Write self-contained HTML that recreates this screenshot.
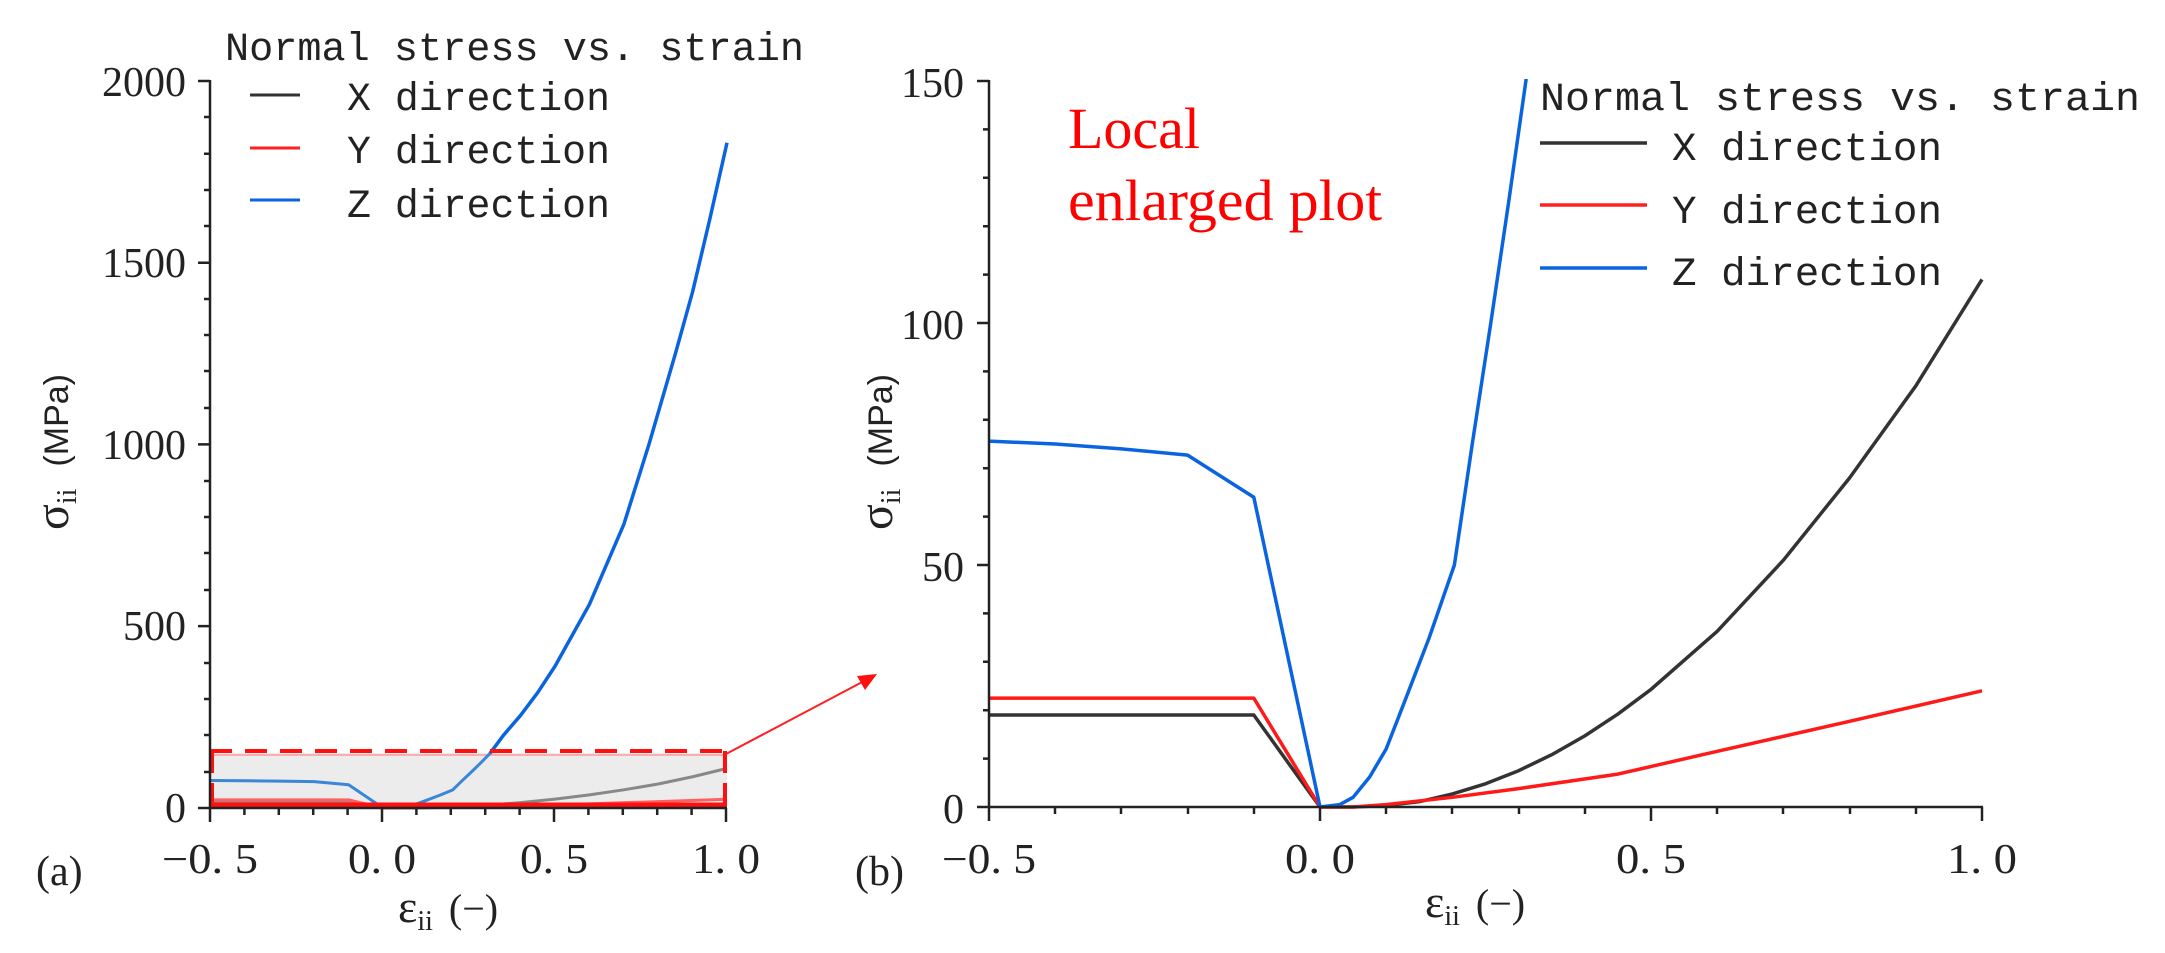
<!DOCTYPE html>
<html><head><meta charset="utf-8"><style>
html,body{margin:0;padding:0;background:#fff;}
svg{display:block;}
.tk{font-family:"Liberation Serif",serif;font-size:42px;fill:#222;}
.lg{font-family:"Liberation Mono",monospace;font-size:40px;fill:#222;}
</style></head><body>
<svg width="2165" height="953" viewBox="0 0 2165 953" xmlns="http://www.w3.org/2000/svg">
<defs>
<clipPath id="cr"><rect x="989" y="79" width="1000" height="735"/></clipPath>
</defs>

<!-- ============ LEFT PANEL ============ -->
<!-- highlight box -->
<rect x="210" y="753" width="517" height="54" fill="#ececec"/>
<line x1="210" y1="755" x2="727" y2="755" stroke="#ff9a9a" stroke-width="1.5"/>
<g transform="translate(383,808) scale(344,-0.3635)" fill="none" stroke-linejoin="round">
<polyline vector-effect="non-scaling-stroke" stroke="#3a86d8" stroke-width="3" points="-0.5,75.6 -0.4,75 -0.3,74 -0.2,72.7 -0.1,64 0,0 0.03,0.5 0.05,2 0.075,6.2 0.1,12 0.127,21.5 0.165,35 0.203,50 0.23,75 0.258,100 0.285,125 0.311,150"/>
<polyline vector-effect="non-scaling-stroke" stroke="#0a64e0" stroke-width="3.5" points="0.311,150 0.35,200 0.4,255 0.45,318 0.5,390 0.6,560 0.7,780 0.773,1000 0.85,1250 0.9,1420 0.95,1620 1.0,1830"/>
<polyline vector-effect="non-scaling-stroke" stroke="#888" stroke-width="3" points="-0.5,19 -0.1,19 0,0 0.05,0 0.1,0.3 0.2,2.7 0.3,7.5 0.4,14.7 0.5,24.3 0.6,36 0.7,50 0.8,66 0.9,86 1.0,109"/>
<polyline vector-effect="non-scaling-stroke" stroke="#ff6060" stroke-width="3" points="-0.5,22.5 -0.1,22.5 0,0 0.1,0.5 0.3,3.8 0.45,6.8 0.6,11.5 0.8,17.7 1.0,24"/>
</g>
<!-- dashed red box -->
<line x1="210" y1="751" x2="727" y2="751" stroke="#ff1010" stroke-width="4" stroke-dasharray="22,13"/>
<line x1="210" y1="805" x2="727" y2="805" stroke="#ff1010" stroke-width="5"/>
<line x1="212" y1="751" x2="212" y2="808" stroke="#ff1010" stroke-width="4" stroke-dasharray="22,10"/>
<line x1="725" y1="751" x2="725" y2="808" stroke="#ff1010" stroke-width="4" stroke-dasharray="22,10"/>
<!-- arrow -->
<line x1="726" y1="754" x2="866" y2="680" stroke="#ff2020" stroke-width="2"/>
<polygon points="877,674 857,676 865,690" fill="#ff1010"/>

<!-- left axes -->
<g stroke="#222" stroke-width="2.5" fill="none">
<line x1="210" y1="80" x2="210" y2="809"/>
<line x1="209" y1="808" x2="727" y2="808"/>
<path d="M198,81H210 M198,262.7H210 M198,444.4H210 M198,626.1H210 M198,808H210"/>
<path d="M204,117H210 M204,153.8H210 M204,190H210 M204,226H210 M204,299H210 M204,335H210 M204,371H210 M204,408H210 M204,481H210 M204,517H210 M204,553H210 M204,590H210 M204,663H210 M204,699H210 M204,735H210 M204,772H210"/>
<path d="M210,808V822 M382,808V822 M554,808V822 M726,808V822"/>
<path d="M244.4,808V815 M278.8,808V815 M313.2,808V815 M347.6,808V815 M416.4,808V815 M450.8,808V815 M485.2,808V815 M519.6,808V815 M588.4,808V815 M622.8,808V815 M657.2,808V815 M691.6,808V815"/>
</g>
<g class="tk" text-anchor="end">
<text x="186" y="96">2000</text>
<text x="186" y="277">1500</text>
<text x="186" y="459">1000</text>
<text x="186" y="640">500</text>
<text x="186" y="822">0</text>
</g>
<g class="tk" text-anchor="middle">
<text x="210" y="873" textLength="96" lengthAdjust="spacingAndGlyphs">−0. 5</text>
<text x="382" y="873" textLength="68" lengthAdjust="spacingAndGlyphs">0. 0</text>
<text x="554" y="873" textLength="68" lengthAdjust="spacingAndGlyphs">0. 5</text>
<text x="726" y="873" textLength="68" lengthAdjust="spacingAndGlyphs">1. 0</text>
</g>
<text x="36" y="885" class="tk" font-size="40">(a)</text>
<text x="398" y="922" font-family="Liberation Serif,serif" font-size="46" fill="#222">ε<tspan font-size="28" dy="8">ii</tspan><tspan dy="-8" font-size="40" dx="16">(−)</tspan></text>
<text transform="translate(68,530) rotate(-90)" font-family="Liberation Serif,serif" font-size="48" fill="#222">σ<tspan font-size="28" dy="8">ii</tspan><tspan dy="-8" dx="22" font-family="Liberation Sans,sans-serif" font-size="34">(MPa)</tspan></text>

<!-- left legend -->
<text class="lg" x="225" y="60" textLength="579" lengthAdjust="spacingAndGlyphs">Normal stress vs. strain</text>
<line x1="250" y1="95" x2="300" y2="95" stroke="#333" stroke-width="3"/>
<line x1="250" y1="148" x2="300" y2="148" stroke="#ff2020" stroke-width="3"/>
<line x1="250" y1="200" x2="300" y2="200" stroke="#0a64e0" stroke-width="3"/>
<text class="lg" x="347" y="110" textLength="263" lengthAdjust="spacingAndGlyphs">X direction</text>
<text class="lg" x="347" y="163" textLength="263" lengthAdjust="spacingAndGlyphs">Y direction</text>
<text class="lg" x="347" y="217" textLength="263" lengthAdjust="spacingAndGlyphs">Z direction</text>

<!-- ============ RIGHT PANEL ============ -->
<g clip-path="url(#cr)">
<g transform="translate(1320,807) scale(662,-4.84)" fill="none" stroke-linejoin="round">
<polyline vector-effect="non-scaling-stroke" stroke="#333" stroke-width="3.5" points="-0.5,19 -0.1,19 0,0 0.05,0 0.1,0.3 0.15,1.1 0.2,2.7 0.25,4.8 0.3,7.5 0.35,10.8 0.4,14.7 0.45,19.2 0.5,24.3 0.6,36.3 0.7,51 0.8,68 0.9,87 1.0,109"/>
<polyline vector-effect="non-scaling-stroke" stroke="#ff1a1a" stroke-width="3.5" points="-0.5,22.5 -0.1,22.5 0,0 0.05,0 0.1,0.5 0.2,2 0.3,3.8 0.45,6.8 0.6,11.5 0.8,17.7 1.0,24"/>
<polyline vector-effect="non-scaling-stroke" stroke="#0a64e0" stroke-width="3.5" points="-0.5,75.6 -0.4,75 -0.3,74 -0.2,72.7 -0.1,64 0,0 0.03,0.5 0.05,2 0.075,6.2 0.1,12 0.127,21.5 0.165,35 0.203,50 0.23,75 0.258,100 0.285,125 0.311,150 0.33,180"/>
</g>
</g>
<g stroke="#222" stroke-width="2.5" fill="none">
<line x1="989" y1="80" x2="989" y2="808"/>
<line x1="988" y1="807" x2="1983" y2="807"/>
<path d="M977,81H989 M977,323H989 M977,565H989 M977,807H989"/>
<path d="M983,129.4H989 M983,177.8H989 M983,226.2H989 M983,274.6H989 M983,371.4H989 M983,419.8H989 M983,468.2H989 M983,516.6H989 M983,613.4H989 M983,661.8H989 M983,710.2H989 M983,758.6H989"/>
<path d="M989,807V821 M1320,807V821 M1651,807V821 M1982,807V821"/>
<path d="M1055,807V814 M1121,807V814 M1188,807V814 M1254,807V814 M1386,807V814 M1452,807V814 M1519,807V814 M1585,807V814 M1717,807V814 M1783,807V814 M1850,807V814 M1916,807V814"/>
</g>
<g class="tk" text-anchor="end" font-size="46">
<text x="964" y="97">150</text>
<text x="964" y="339">100</text>
<text x="964" y="581">50</text>
<text x="964" y="823">0</text>
</g>
<g class="tk" text-anchor="middle">
<text x="989" y="873" textLength="94" lengthAdjust="spacingAndGlyphs">−0. 5</text>
<text x="1320" y="873" textLength="70" lengthAdjust="spacingAndGlyphs">0. 0</text>
<text x="1651" y="873" textLength="70" lengthAdjust="spacingAndGlyphs">0. 5</text>
<text x="1982" y="873" textLength="70" lengthAdjust="spacingAndGlyphs">1. 0</text>
</g>
<text x="855" y="885" class="tk" font-size="40">(b)</text>
<text x="1425" y="917" font-family="Liberation Serif,serif" font-size="46" fill="#222">ε<tspan font-size="28" dy="8">ii</tspan><tspan dy="-8" font-size="40" dx="16">(−)</tspan></text>
<text transform="translate(892,530) rotate(-90)" font-family="Liberation Serif,serif" font-size="48" fill="#222">σ<tspan font-size="28" dy="8">ii</tspan><tspan dy="-8" dx="22" font-family="Liberation Sans,sans-serif" font-size="34">(MPa)</tspan></text>

<text x="1068" y="148" font-family="Liberation Serif,serif" font-size="58" fill="#ff0000">Local</text>
<text x="1068" y="220" font-family="Liberation Serif,serif" font-size="58" fill="#ff0000" textLength="314" lengthAdjust="spacingAndGlyphs">enlarged plot</text>

<!-- right legend -->
<text class="lg" x="1540" y="110" textLength="600" lengthAdjust="spacingAndGlyphs">Normal stress vs. strain</text>
<line x1="1540" y1="143" x2="1647" y2="143" stroke="#333" stroke-width="3.5"/>
<line x1="1540" y1="205" x2="1647" y2="205" stroke="#ff2020" stroke-width="3.5"/>
<line x1="1540" y1="268" x2="1647" y2="268" stroke="#0a64e0" stroke-width="3.5"/>
<text class="lg" x="1672" y="160" textLength="270" lengthAdjust="spacingAndGlyphs">X direction</text>
<text class="lg" x="1672" y="223" textLength="270" lengthAdjust="spacingAndGlyphs">Y direction</text>
<text class="lg" x="1672" y="285" textLength="270" lengthAdjust="spacingAndGlyphs">Z direction</text>
</svg>
</body></html>
